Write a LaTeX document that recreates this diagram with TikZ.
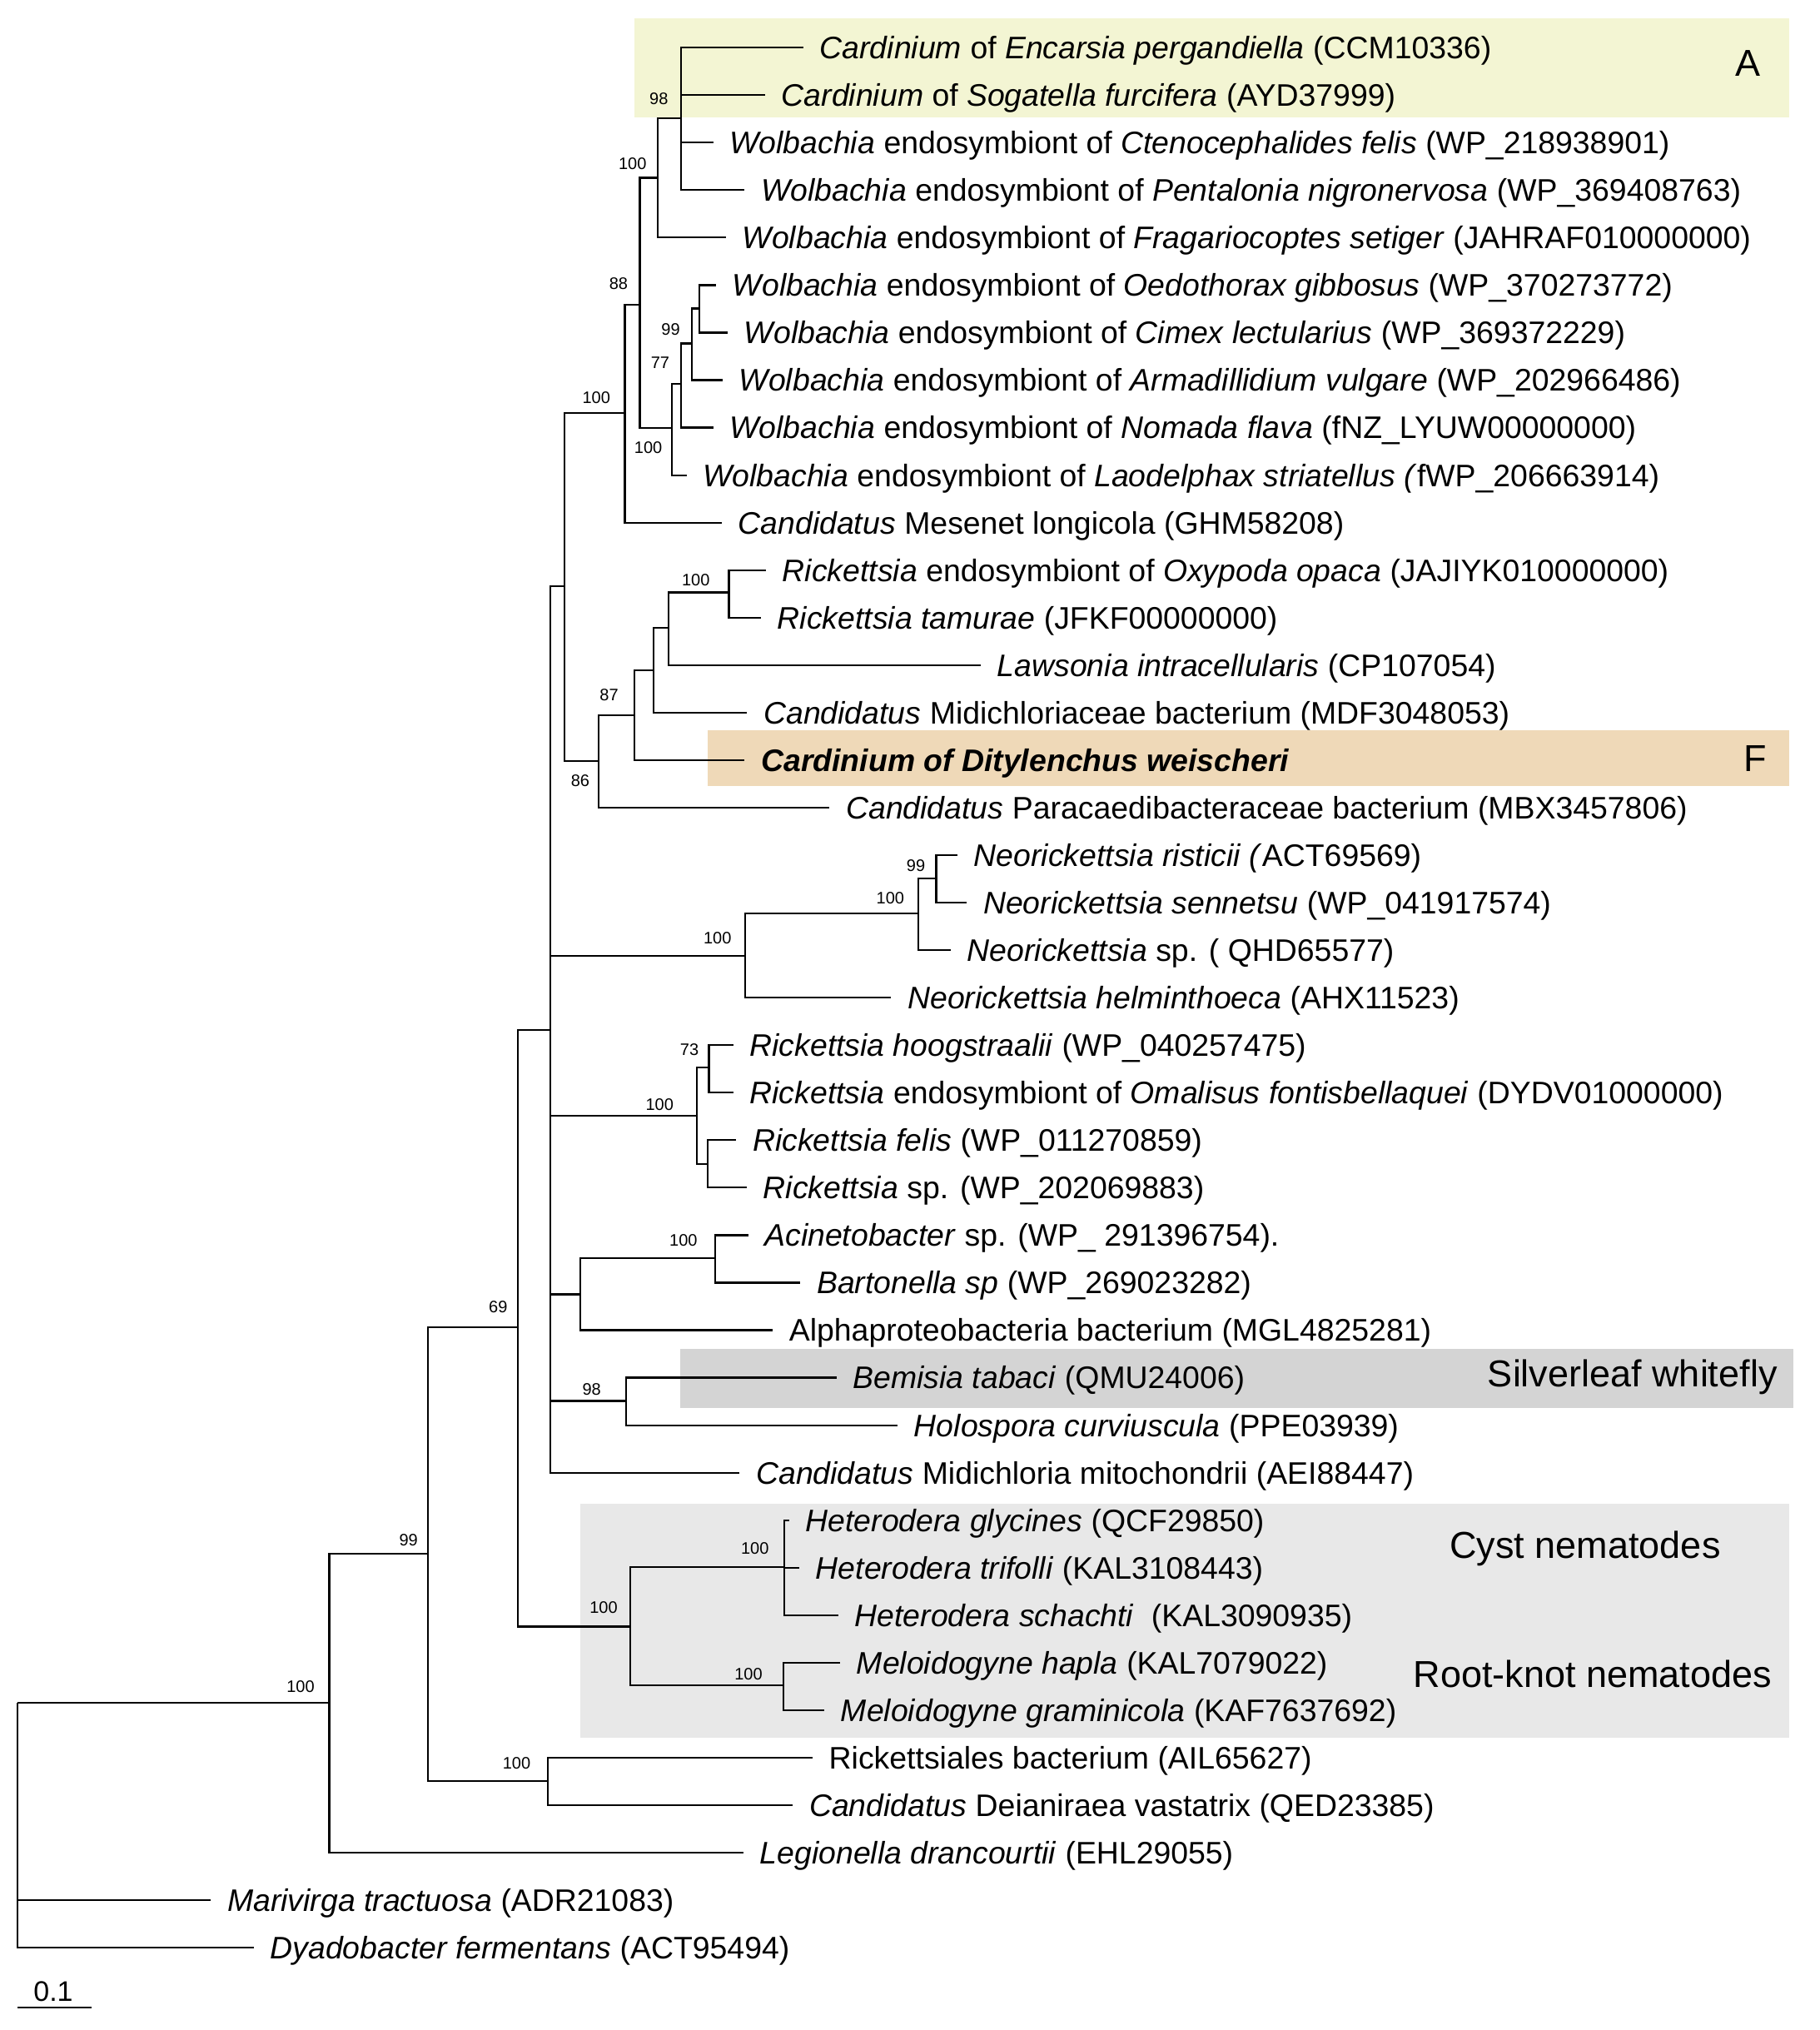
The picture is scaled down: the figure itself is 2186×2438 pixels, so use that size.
\documentclass[tikz,border=0pt]{standalone}
\usepackage{fontspec}
\setmainfont{Liberation Sans}
\definecolor{cA}{RGB}{243,245,211}
\definecolor{cF}{RGB}{239,217,184}
\definecolor{cS}{RGB}{212,212,212}
\definecolor{cN}{RGB}{232,232,232}
\begin{document}
\begin{tikzpicture}[x=0.5pt,y=-0.5pt,
  br/.style={line width=1.1pt, line join=miter},
  leaf/.style={anchor=west, inner xsep=9.75pt, inner ysep=0pt, text height=14pt, text depth=0.6pt, font=\fontsize{18.7}{20}\selectfont},
  boot/.style={inner sep=0pt, font=\fontsize{10}{12}\selectfont},
  clade/.style={inner sep=0pt, font=\fontsize{22.5}{26}\selectfont}]
\useasboundingbox (0,0) rectangle (2186,2438);
% background boxes
\fill[cA] (762,22) rectangle (2149,141);
\fill[cF] (850,877) rectangle (2149,944);
\fill[cS] (817,1620) rectangle (2154,1691);
\fill[cN] (697,1806) rectangle (2149,2087);
% clade labels
\node[clade] (labA) at (2099.5,76.3) {A};
\node[clade] (labF) at (2108,911.3) {F};
\node[clade, anchor=east] (labS) at (2135,1654) {Silverleaf whitefly};
\node[clade] (labC) at (1904,1860) {Cyst nematodes};
\node[clade] (labR) at (1913,2010) {Root-knot nematodes};
% leaves
\node[leaf] (l1) at (964.8,57.1) {\textit{Cardinium} of \textit{Encarsia pergandiella} (CCM10336)};
\node[leaf] (l2) at (918.9,114.2) {\textit{Cardinium} of \textit{Sogatella furcifera} (AYD37999)};
\node[leaf] (l3) at (856.6,171.2) {\textit{Wolbachia} endosymbiont of \textit{Ctenocephalides felis} (WP\_218938901)};
\node[leaf] (l4) at (894.4,228.3) {\textit{Wolbachia} endosymbiont of \textit{Pentalonia nigronervosa} (WP\_369408763)};
\node[leaf] (l5) at (871.9,285.3) {\textit{Wolbachia} endosymbiont of \textit{Fragariocoptes setiger} (JAHRAF010000000)};
\node[leaf] (l6) at (860,342.4) {\textit{Wolbachia} endosymbiont of \textit{Oedothorax gibbosus} (WP\_370273772)};
\node[leaf] (l7) at (874,399.4) {\textit{Wolbachia} endosymbiont of \textit{Cimex lectularius} (WP\_369372229)};
\node[leaf] (l8) at (867.9,456.5) {\textit{Wolbachia} endosymbiont of \textit{Armadillidium vulgare} (WP\_202966486)};
\node[leaf] (l9) at (856.6,513.5) {\textit{Wolbachia} endosymbiont of \textit{Nomada flava} (fNZ\_LYUW00000000)};
\node[leaf] (l10) at (824.5,570.6) {\textit{Wolbachia} endosymbiont of \textit{Laodelphax striatellus (}fWP\_206663914)};
\node[leaf] (l11) at (866.8,627.6) {\textit{Candidatus} Mesenet longicola (GHM58208)};
\node[leaf] (l12) at (919.9,684.7) {\textit{Rickettsia} endosymbiont of \textit{Oxypoda opaca} (JAJIYK010000000)};
\node[leaf] (l13) at (913.8,741.7) {\textit{Rickettsia tamurae} (JFKF00000000)};
\node[leaf] (l14) at (1178,798.8) {\textit{Lawsonia intracellularis} (CP107054)};
\node[leaf] (l15) at (897.4,855.8) {\textit{Candidatus} Midichloriaceae bacterium (MDF3048053)};
\node[leaf] (l16) at (894.4,912.9) {\bfseries\itshape Cardinium of Ditylenchus weischeri};
\node[leaf] (l17) at (996.4,969.9) {\textit{Candidatus} Paracaedibacteraceae bacterium (MBX3457806)};
\node[leaf] (l18) at (1150,1027.0) {\textit{Neorickettsia risticii (}ACT69569)};
\node[leaf] (l19) at (1161.2,1084.0) {\textit{Neorickettsia sennetsu} (WP\_041917574)};
\node[leaf] (l20) at (1141.8,1141.1) {\textit{Neorickettsia} sp. ( QHD65577)};
\node[leaf] (l21) at (1070.4,1198.1) {\textit{Neorickettsia helminthoeca} (AHX11523)};
\node[leaf] (l22) at (880.6,1255.2) {\textit{Rickettsia hoogstraalii} (WP\_040257475)};
\node[leaf] (l23) at (880.6,1312.2) {\textit{Rickettsia} endosymbiont of \textit{Omalisus fontisbellaquei} (DYDV01000000)};
\node[leaf] (l24) at (884.2,1369.3) {\textit{Rickettsia felis} (WP\_011270859)};
\node[leaf] (l25) at (897,1426.3) {\textit{Rickettsia} sp. (WP\_202069883)};
\node[leaf] (l26) at (898.5,1483.4) {\textit{Acinetobacter} sp. (WP\_ 291396754).};
\node[leaf] (l27) at (961.2,1540.4) {\textit{Bartonella sp} (WP\_269023282)};
\node[leaf] (l28) at (928,1597.5) {Alphaproteobacteria bacterium (MGL4825281)};
\node[leaf] (l29) at (1004.6,1654.5) {\textit{Bemisia tabaci} (QMU24006)};
\node[leaf] (l30) at (1078,1711.6) {\textit{Holospora curviuscula} (PPE03939)};
\node[leaf] (l31) at (888.3,1768.6) {\textit{Candidatus} Midichloria mitochondrii (AEI88447)};
\node[leaf] (l32) at (947.7,1825.7) {\textit{Heterodera glycines} (QCF29850)};
\node[leaf] (l33) at (960,1882.7) {\textit{Heterodera trifolli} (KAL3108443)};
\node[leaf] (l34) at (1006.7,1939.8) {\textit{Heterodera schachti}\ \ (KAL3090935)};
\node[leaf] (l35) at (1009,1996.8) {\textit{Meloidogyne hapla} (KAL7079022)};
\node[leaf] (l36) at (990,2053.9) {\textit{Meloidogyne graminicola} (KAF7637692)};
\node[leaf] (l37) at (975.8,2110.9) {Rickettsiales bacterium (AIL65627)};
\node[leaf] (l38) at (952.2,2168.0) {\textit{Candidatus} Deianiraea vastatrix (QED23385)};
\node[leaf] (l39) at (892.9,2225.0) {\textit{Legionella drancourtii} (EHL29055)};
\node[leaf] (l40) at (253.2,2282.1) {\textit{Marivirga tractuosa} (ADR21083)};
\node[leaf] (l41) at (304.8,2339.1) {\textit{Dyadobacter fermentans} (ACT95494)};
% internal nodes
\coordinate (R) at (21,2045.3);
\coordinate (nA) at (395.4,2045.3);
\coordinate (nB) at (513.8,1866);
\coordinate (nC) at (622,1594.3);
\coordinate (nD) at (658.2,2138.9);
\coordinate (nE) at (661,1236.8);
\coordinate (nNem) at (757.2,1953.4);
\coordinate (nHet) at (942.3,1881.7);
\coordinate (nMel) at (941,2024);
\coordinate (nF) at (677.6,704);
\coordinate (nG) at (750.5,495.8);
\coordinate (nI) at (768.4,366.2);
\coordinate (nJ) at (789.8,213.4);
\coordinate (nK) at (817.9,142.3);
\coordinate (nW) at (807,514.3);
\coordinate (nWa) at (817.9,460.9);
\coordinate (nWb) at (830.6,412.5);
\coordinate (nWc) at (839.8,370.4);
\coordinate (nH) at (718.9,913.6);
\coordinate (nL) at (761.7,858.9);
\coordinate (nM) at (784.7,805);
\coordinate (nN) at (802.6,753.6);
\coordinate (nO) at (875.5,711.5);
\coordinate (nNeo) at (894.9,1148);
\coordinate (nNeoB) at (1102.6,1096.6);
\coordinate (nNeoC) at (1124.5,1054.6);
\coordinate (nR) at (837.2,1340.2);
\coordinate (nRa) at (851.5,1281.8);
\coordinate (nRb) at (850,1397.8);
\coordinate (nAB) at (696.9,1554.4);
\coordinate (nABa) at (859.2,1510.6);
\coordinate (nBH) at (751.7,1682.5);
% branches
\draw[br] (R) |- (nA);
\draw[br] (R) |- (l40.west);
\draw[br] (R) |- (l41.west);
\draw[br] (nA) |- (nB);
\draw[br] (nA) |- (l39.west);
\draw[br] (nB) |- (nC);
\draw[br] (nB) |- (nD);
\draw[br] (nD) |- (l37.west);
\draw[br] (nD) |- (l38.west);
\draw[br] (nC) |- (nE);
\draw[br] (nC) |- (nNem);
\draw[br] (nNem) |- (nHet);
\draw[br] (nNem) |- (nMel);
\draw[br] (nHet) |- (l32.west);
\draw[br] (nHet) |- (l33.west);
\draw[br] (nHet) |- (l34.west);
\draw[br] (nMel) |- (l35.west);
\draw[br] (nMel) |- (l36.west);
\draw[br] (nE) |- (nF);
\draw[br] (nE) |- (nNeo);
\draw[br] (nE) |- (nR);
\draw[br] (nE) |- (nAB);
\draw[br] (nE) |- (nBH);
\draw[br] (nE) |- (l31.west);
\draw[br] (nF) |- (nG);
\draw[br] (nF) |- (nH);
\draw[br] (nG) |- (nI);
\draw[br] (nG) |- (l11.west);
\draw[br] (nI) |- (nJ);
\draw[br] (nI) |- (nW);
\draw[br] (nJ) |- (nK);
\draw[br] (nJ) |- (l5.west);
\draw[br] (nK) |- (l1.west);
\draw[br] (nK) |- (l2.west);
\draw[br] (nK) |- (l3.west);
\draw[br] (nK) |- (l4.west);
\draw[br] (nW) |- (nWa);
\draw[br] (nW) |- (l10.west);
\draw[br] (nWa) |- (nWb);
\draw[br] (nWa) |- (l9.west);
\draw[br] (nWb) |- (nWc);
\draw[br] (nWb) |- (l8.west);
\draw[br] (nWc) |- (l6.west);
\draw[br] (nWc) |- (l7.west);
\draw[br] (nH) |- (nL);
\draw[br] (nH) |- (l17.west);
\draw[br] (nL) |- (nM);
\draw[br] (nL) |- (l16.west);
\draw[br] (nM) |- (nN);
\draw[br] (nM) |- (l15.west);
\draw[br] (nN) |- (nO);
\draw[br] (nN) |- (l14.west);
\draw[br] (nO) |- (l12.west);
\draw[br] (nO) |- (l13.west);
\draw[br] (nNeo) |- (nNeoB);
\draw[br] (nNeo) |- (l21.west);
\draw[br] (nNeoB) |- (nNeoC);
\draw[br] (nNeoB) |- (l20.west);
\draw[br] (nNeoC) |- (l18.west);
\draw[br] (nNeoC) |- (l19.west);
\draw[br] (nR) |- (nRa);
\draw[br] (nR) |- (nRb);
\draw[br] (nRa) |- (l22.west);
\draw[br] (nRa) |- (l23.west);
\draw[br] (nRb) |- (l24.west);
\draw[br] (nRb) |- (l25.west);
\draw[br] (nAB) |- (nABa);
\draw[br] (nAB) |- (l28.west);
\draw[br] (nABa) |- (l26.west);
\draw[br] (nABa) |- (l27.west);
\draw[br] (nBH) |- (l29.west);
\draw[br] (nBH) |- (l30.west);
% bootstrap values
\node[boot] (b1) at (791.3,119.1) {98};
\node[boot] (b2) at (759.7,196.5) {100};
\node[boot] (b3) at (742.9,340.9) {88};
\node[boot] (b4) at (805.6,395.6) {99};
\node[boot] (b5) at (792.9,435.6) {77};
\node[boot] (b6) at (778.6,537.9) {100};
\node[boot] (b7) at (716.3,477.7) {100};
\node[boot] (b8) at (835.7,696.8) {100};
\node[boot] (b9) at (731.6,834.4) {87};
\node[boot] (b10) at (696.9,938) {86};
\node[boot] (b11) at (1100,1039.8) {99};
\node[boot] (b12) at (1069.4,1079) {100};
\node[boot] (b13) at (861.7,1127) {100};
\node[boot] (b14) at (828,1260.8) {73};
\node[boot] (b15) at (792.3,1326.3) {100};
\node[boot] (b16) at (820.9,1489.2) {100};
\node[boot] (b17) at (710.7,1668.3) {98};
\node[boot] (b18) at (598.3,1570) {69};
\node[boot] (b19) at (906.7,1860) {100};
\node[boot] (b20) at (899,2010.7) {100};
\node[boot] (b21) at (725,1931) {100};
\node[boot] (b22) at (490.7,1850) {99};
\node[boot] (b23) at (620.5,2117.3) {100};
\node[boot] (b24) at (361,2025.8) {100};
% scale bar
\coordinate (sb1) at (21,2411);
\coordinate (sb2) at (110.3,2411);
\draw[br] (sb1) -- (sb2);
\node[inner sep=0pt, font=\fontsize{17}{20}\selectfont] (sbl) at (64,2392) {0.1};
\end{tikzpicture}
\end{document}
